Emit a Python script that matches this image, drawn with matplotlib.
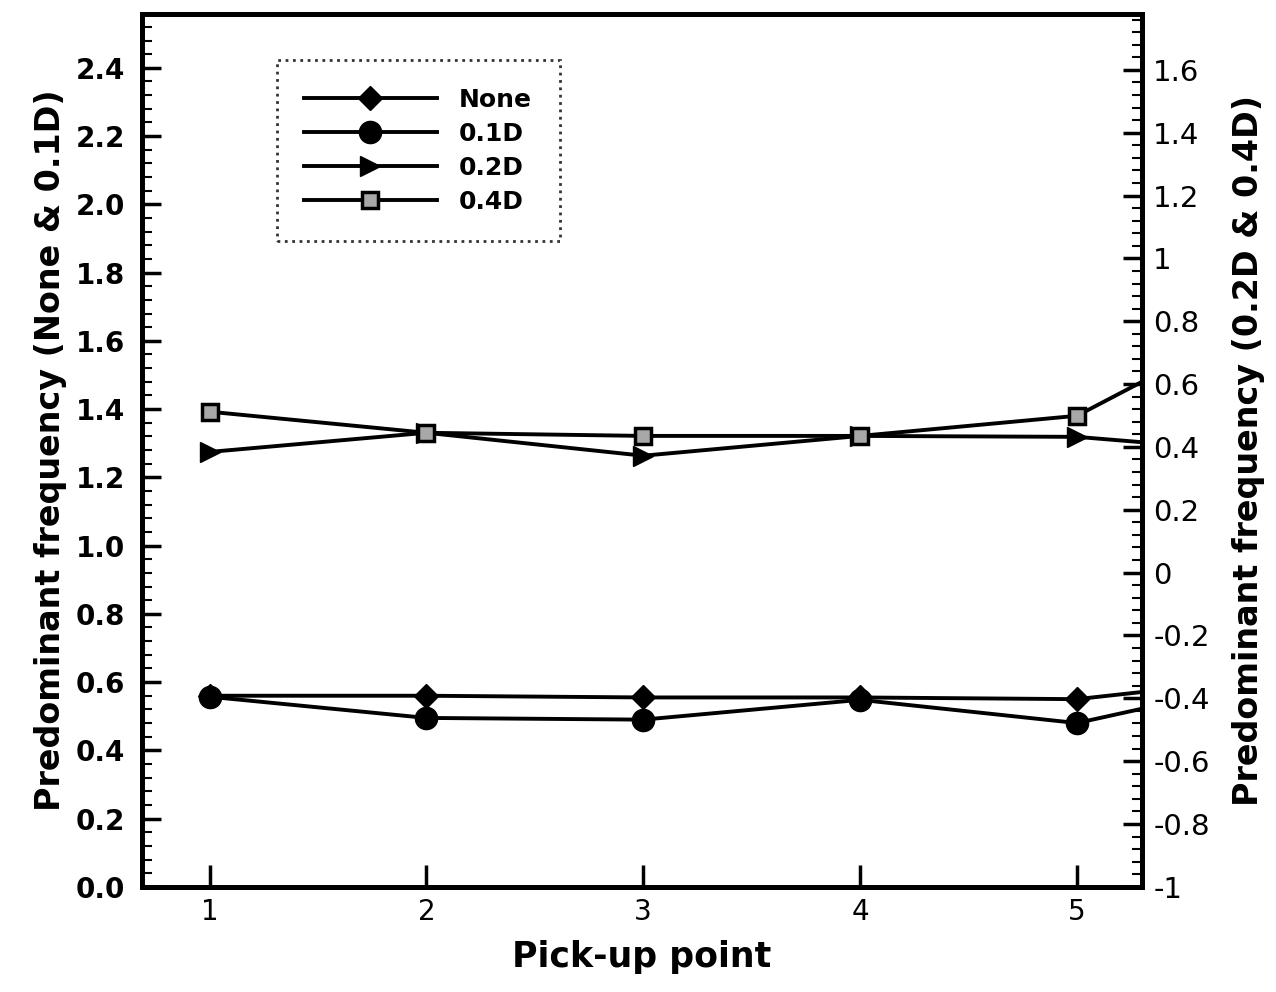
import numpy as np
import matplotlib
matplotlib.use('Agg')
import matplotlib.pyplot as plt
from matplotlib.ticker import MultipleLocator, FixedLocator

plt.rcParams['font.family'] = ['DejaVu Sans']

# ── data ───────────────────────────────────────────────────────────────────
pickup = [1, 2, 3, 4, 5, 6]          # point 6 lies past the right edge (clipped)
none_f = [0.56, 0.56, 0.555, 0.555, 0.55, 0.62]
d01_f  = [0.557, 0.495, 0.49, 0.548, 0.48, 0.62]
d02_f  = [0.384, 0.445, 0.372, 0.435, 0.432, 0.375]
d04_f  = [0.512, 0.445, 0.435, 0.435, 0.499, 0.86]

x_ticks = [1, 2, 3, 4, 5]
left_ticks = [0.0, 0.2, 0.4, 0.6, 0.8, 1.0, 1.2, 1.4, 1.6, 1.8, 2.0, 2.2, 2.4]
right_ticks = [-1, -0.8, -0.6, -0.4, -0.2, 0, 0.2, 0.4, 0.6, 0.8, 1, 1.2, 1.4, 1.6]
right_labels = ['-1', '-0.8', '-0.6', '-0.4', '-0.2', '0', '0.2', '0.4',
                '0.6', '0.8', '1', '1.2', '1.4', '1.6']

fig = plt.figure(figsize=(12.76, 9.92), dpi=100)
ax = fig.add_axes([0.111, 0.106, 0.784, 0.880])
ax2 = ax.twinx()

lw = 2.8
h1, = ax.plot(pickup, none_f, color='black', lw=lw, marker='D', ms=12,
              mfc='black', mec='black', label='None')
h2, = ax.plot(pickup, d01_f, color='black', lw=lw, marker='o', ms=16,
              mfc='black', mec='black', label='0.1D')
h3, = ax2.plot(pickup, d02_f, color='black', lw=lw, marker='>', ms=15,
               mfc='black', mec='black', label='0.2D')
h4, = ax2.plot(pickup, d04_f, color='black', lw=lw, marker='s', ms=12,
               mfc='#a8a8a8', mec='black', mew=2.5, label='0.4D')

ax.set_xlim(0.687, 5.30)
ax.set_ylim(0.0, 2.558)
ax2.set_ylim(-1.0, 1.778)

ax.xaxis.set_major_locator(FixedLocator(x_ticks))
ax.set_xticklabels([str(v) for v in x_ticks], fontsize=20)
ax.yaxis.set_major_locator(FixedLocator(left_ticks))
ax.set_yticklabels([f'{v:.1f}' for v in left_ticks], fontsize=20, fontweight='bold')
ax.yaxis.set_minor_locator(MultipleLocator(0.04))
ax2.yaxis.set_major_locator(FixedLocator(right_ticks))
ax2.set_yticklabels(right_labels, fontsize=21)
ax2.yaxis.set_minor_locator(MultipleLocator(0.04))

ax.tick_params(axis='both', which='major', direction='in', length=14, width=2.5, pad=12)
ax.tick_params(axis='y', which='minor', direction='in', length=7, width=1.5)
ax.tick_params(axis='x', which='major', length=16, top=False, pad=8)
ax2.tick_params(axis='y', which='major', direction='in', length=14, width=2.5, pad=8)
ax2.tick_params(axis='y', which='minor', direction='in', length=7, width=1.5)

for a in (ax, ax2):
    for s in a.spines.values():
        s.set_linewidth(3.5)

ax.set_xlabel('Pick-up point', fontsize=25, fontweight='bold', labelpad=10)
ax.set_ylabel('Predominant frequency (None & 0.1D)', fontsize=24, fontweight='bold', labelpad=6)
ax2.set_ylabel('Predominant frequency (0.2D & 0.4D)', fontsize=24, fontweight='bold', labelpad=16)

leg = ax2.legend(handles=[h1, h2, h3, h4], loc='upper left',
                 bbox_to_anchor=(0.135, 0.947), fontsize=18, frameon=True,
                 fancybox=False, handlelength=5.3, handletextpad=0.9,
                 borderpad=1.1, labelspacing=0.4, borderaxespad=0)
for t in leg.get_texts():
    t.set_fontweight('bold')
frame = leg.get_frame()
frame.set_edgecolor('black')
frame.set_linestyle(':')
frame.set_linewidth(2)

fig.savefig('out.png', dpi=100)
